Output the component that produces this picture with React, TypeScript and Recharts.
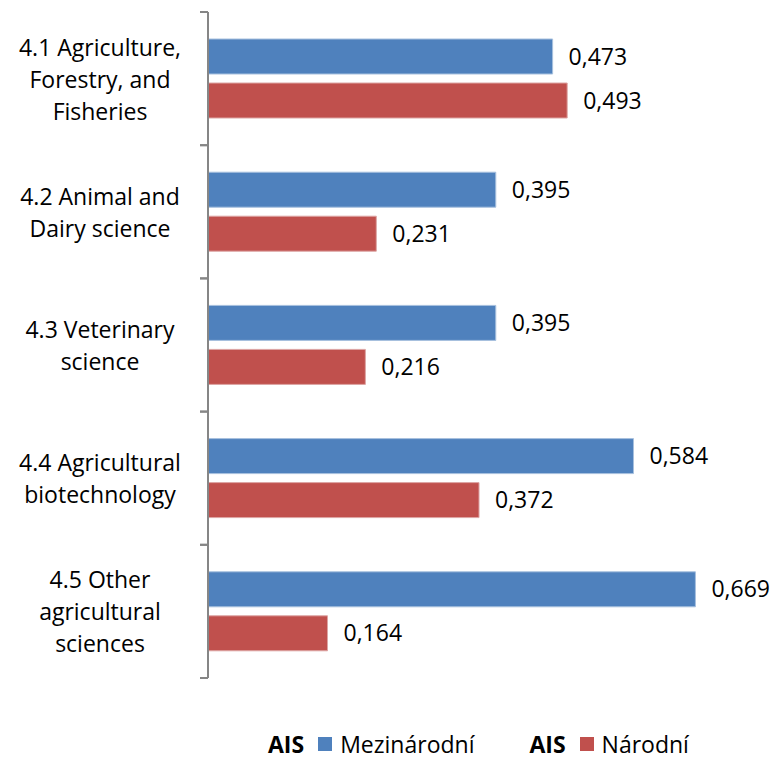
import { BarChart, Bar, XAxis, YAxis, LabelList } from 'recharts';

const categoryLines = [
    ['4.1 Agriculture,', 'Forestry, and', 'Fisheries'],
    ['4.2 Animal and', 'Dairy science'],
    ['4.3 Veterinary', 'science'],
    ['4.4 Agricultural', 'biotechnology'],
    ['4.5 Other', 'agricultural', 'sciences'],
];
const categories = categoryLines.map((l) => l.join(' '));
const mezinarodni = [0.473, 0.395, 0.395, 0.584, 0.669];
const narodni = [0.493, 0.231, 0.216, 0.372, 0.164];

const BLUE = '#4F81BD';
const RED = '#C0504D';
const FONT = '"Open Sans", sans-serif';

const data = categories.map((name, i) => ({
    name,
    mez: mezinarodni[i],
    nar: narodni[i],
}));

const fmt = (v: any) => Number(v).toFixed(3).replace('.', ',');

const CategoryTick = ({ x, y, payload, index }: any) => {
    const lines = categoryLines[index] || [String(payload.value)];
    const half = payload.offset ?? 66.6;
    const lh = 32;
    const startY = y - ((lines.length - 1) * lh) / 2;
    return (
        <g>
            <line x1={x - 8} x2={x} y1={y - half} y2={y - half} stroke="#868686" strokeWidth={2} />
            <line x1={x - 8} x2={x} y1={y + half} y2={y + half} stroke="#868686" strokeWidth={2} />
            {lines.map((t: string, i: number) => (
                <text key={i} x={x - 108} y={startY + i * lh} textAnchor="middle" dominantBaseline="central"
                    fontSize={23} fontFamily={FONT} fill="#000">
                    {t}
                </text>
            ))}
        </g>
    );
};

export default function App() {
    return (
        <div style={{ position: 'absolute', left: 0, top: 0, width: 776, height: 760, background: '#fff', fontFamily: FONT }}>
            <BarChart
                width={776}
                height={760}
                data={data}
                layout="vertical"
                margin={{ top: 12, right: 58, bottom: 82, left: 0 }}
                barSize={35}
                barGap={9}
            >
                <XAxis type="number" domain={[0, 0.7]} hide />
                <YAxis
                    type="category"
                    dataKey="name"
                    width={208}
                    axisLine={{ stroke: '#868686', strokeWidth: 2 }}
                    tickLine={false}
                    tickSize={0}
                    tickMargin={0}
                    tick={<CategoryTick />}
                    interval={0}
                />
                <Bar dataKey="mez" name="Mezinárodní" fill={BLUE} stroke="#A7C0DE" strokeWidth={1} isAnimationActive={false}>
                    <LabelList dataKey="mez" position="right" offset={16} formatter={fmt}
                        style={{ fontSize: 23, fontFamily: FONT, fill: '#000' }} />
                </Bar>
                <Bar dataKey="nar" name="Národní" fill={RED} stroke="#DDA5A4" strokeWidth={1} isAnimationActive={false}>
                    <LabelList dataKey="nar" position="right" offset={16} formatter={fmt}
                        style={{ fontSize: 23, fontFamily: FONT, fill: '#000' }} />
                </Bar>
            </BarChart>
            {/* legend */}
            <div style={{ position: 'absolute', left: 268, top: 731, display: 'flex', alignItems: 'center', fontSize: 23, lineHeight: '26px' }}>
                {[['Mezinárodní', BLUE], ['Národní', RED]].map(([label, color], i) => (
                    <div key={label} style={{ display: 'flex', alignItems: 'center', marginLeft: i ? 55 : 0 }}>
                        <span style={{ fontWeight: 'bold' }}>AIS</span>
                        <span style={{ display: 'inline-block', width: 14, height: 14, background: color, marginLeft: 14, marginRight: 8 }} />
                        <span>{label}</span>
                    </div>
                ))}
            </div>
        </div>
    );
}
